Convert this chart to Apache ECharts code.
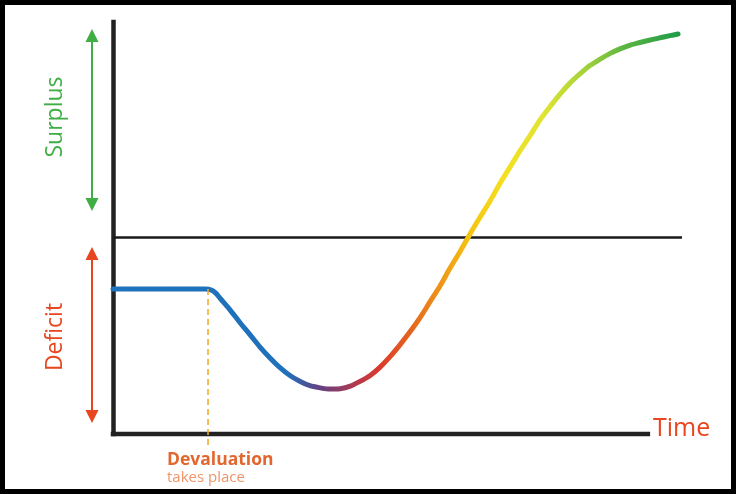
<!DOCTYPE html>
<html>
<head>
<meta charset="utf-8">
<title>J-curve</title>
<script src="https://cdn.jsdelivr.net/npm/echarts@6/dist/echarts.min.js"></script>
<style>
  html, body { margin: 0; padding: 0; background: #fff; }
  #chart { width: 736px; height: 494px; }
</style>
</head>
<body>
<div id="chart"></div>
<script>
  // trade balance over time (x: time, y: balance, 0 = balanced)
  var timeX = [
    0, 16.2, 17.4, 18.1, 18.8, 20.6, 22.3, 24.1, 25.8, 27.6, 29.3, 31.1, 32.9, 34.6, 36.4, 38.1,
    39.9, 41.7, 43.4, 45.2, 46.9, 48.7, 50.4, 52.2, 54.0, 55.7, 57.5, 59.2, 61.0, 62.7, 64.5,
    66.3, 68.0, 69.8, 71.5, 73.3, 75.0, 76.8, 78.6, 80.3, 82.1, 83.8, 85.6, 87.3, 89.1, 90.9,
    92.6, 94.4, 96.1, 97.9, 99.3
  ];
  var balanceY = [
    -12.1, -12.1, -12.4, -13.1, -14.2, -17.0, -19.9, -22.8, -25.6, -28.2, -30.4, -32.3, -33.7, -34.7, -35.2, -35.5,
    -35.4, -34.8, -33.7, -32.3, -30.4, -27.9, -25.2, -22.1, -18.7, -15.1, -11.3, -7.3, -3.3, 0.7, 4.7,
    8.6, 12.6, 16.5, 20.2, 23.8, 27.4, 30.6, 33.6, 36.1, 38.3, 40.2, 41.7, 43.0, 44.1, 45.0,
    45.6, 46.2, 46.7, 47.2, 47.6
  ];

  var devaluationX = 16.7;
  var devaluationY = [-12.1, -49.3];
  var zeroLineX = [0, 100];
  var timeAxisX = [0, 94];

  var xRange = [0, 100];
  var yRange = [-46, 50.4];

  var labels = {
    surplus: 'Surplus',
    deficit: 'Deficit',
    time: 'Time',
    devaluation: 'Devaluation',
    takesPlace: 'takes place'
  };

  var curveData = timeX.map(function (x, i) { return [x, balanceY[i]]; });
  var devaluationData = devaluationY.map(function (y) { return [devaluationX, y]; });
  var zeroData = zeroLineX.map(function (x) { return [x, 0]; });
  var timeAxisData = timeAxisX.map(function (x) { return [x, yRange[0]]; });

  function arrow(x, top, bottom, color) {
    var h = 13, w = 6.5;
    return [
      { type: 'line', shape: { x1: x, y1: top + h - 1, x2: x, y2: bottom - h + 1 }, style: { stroke: color, lineWidth: 2 } },
      { type: 'polygon', shape: { points: [[x, top], [x - w, top + h], [x + w, top + h]] }, style: { fill: color } },
      { type: 'polygon', shape: { points: [[x, bottom], [x - w, bottom - h], [x + w, bottom - h]] }, style: { fill: color } }
    ];
  }

  var font = '"Open Sans", "Noto Sans", sans-serif';

  var option = {
    backgroundColor: '#fff',
    animation: false,
    grid: { left: 113, right: 54, top: 22, bottom: 60 },
    xAxis: {
      type: 'value',
      min: xRange[0],
      max: xRange[1],
      axisLine: { show: false },
      axisTick: { show: false },
      axisLabel: { show: false },
      splitLine: { show: false }
    },
    yAxis: {
      type: 'value',
      min: yRange[0],
      max: yRange[1],
      axisLine: { show: true, lineStyle: { color: '#222', width: 4.5, cap: 'square' } },
      axisTick: { show: false },
      axisLabel: { show: false },
      splitLine: { show: false }
    },
    series: [
      {
        name: 'time axis',
        type: 'line',
        data: timeAxisData,
        symbol: 'none',
        clip: false,
        silent: true,
        lineStyle: { color: '#222', width: 4.5, cap: 'square' }
      },
      {
        name: 'zero',
        type: 'line',
        data: zeroData,
        symbol: 'none',
        clip: false,
        silent: true,
        lineStyle: { color: '#1a1a1a', width: 2.5 }
      },
      {
        name: 'balance',
        type: 'line',
        data: curveData,
        symbol: 'none',
        smooth: 0.3,
        clip: false,
        lineStyle: {
          width: 5,
          cap: 'round',
          join: 'round',
          color: new echarts.graphic.LinearGradient(0, 0, 1, 0, [
            { offset: 0, color: '#1f72bd' },
            { offset: 0.31, color: '#2070ba' },
            { offset: 0.37, color: '#683f80' },
            { offset: 0.43, color: '#b13a4e' },
            { offset: 0.47, color: '#d93a2c' },
            { offset: 0.53, color: '#e6681e' },
            { offset: 0.57, color: '#ee8c18' },
            { offset: 0.63, color: '#f5c410' },
            { offset: 0.69, color: '#f4e020' },
            { offset: 0.76, color: '#e0e432' },
            { offset: 0.83, color: '#a6d33a' },
            { offset: 0.9, color: '#5cb642' },
            { offset: 1, color: '#1d9a48' }
          ])
        }
      },
      {
        name: 'devaluation',
        type: 'line',
        data: devaluationData,
        symbol: 'none',
        clip: false,
        silent: true,
        lineStyle: { color: '#f5a623', width: 1.5, type: [6, 4] }
      }
    ],
    graphic: [].concat(
      arrow(92, 29, 211, '#3fae45'),
      arrow(92, 247, 423, '#e8461e'),
      [
        { type: 'text', x: 55, y: 117, rotation: Math.PI / 2,
          style: { text: labels.surplus, fill: '#3fae45', font: '23px ' + font, textAlign: 'center', textVerticalAlign: 'middle' } },
        { type: 'text', x: 55, y: 337, rotation: Math.PI / 2,
          style: { text: labels.deficit, fill: '#e8461e', font: '23px ' + font, textAlign: 'center', textVerticalAlign: 'middle' } },
        { type: 'text', x: 653, y: 429,
          style: { text: labels.time, fill: '#e8461e', font: '25px ' + font, textAlign: 'left', textVerticalAlign: 'middle' } },
        { type: 'text', x: 167, y: 460,
          style: { text: labels.devaluation, fill: '#e2672f', font: 'bold 17.5px ' + font, textAlign: 'left', textVerticalAlign: 'middle' } },
        { type: 'text', x: 167, y: 478,
          style: { text: labels.takesPlace, fill: '#f0946a', font: '15px ' + font, textAlign: 'left', textVerticalAlign: 'middle' } },
        { type: 'rect', shape: { x: 2.5, y: 2.5, width: 731, height: 489 },
          style: { fill: 'none', stroke: '#000', lineWidth: 5 } }
      ]
    )
  };

  var chart = echarts.init(document.getElementById('chart'));
  chart.setOption(option);
</script>
</body>
</html>
